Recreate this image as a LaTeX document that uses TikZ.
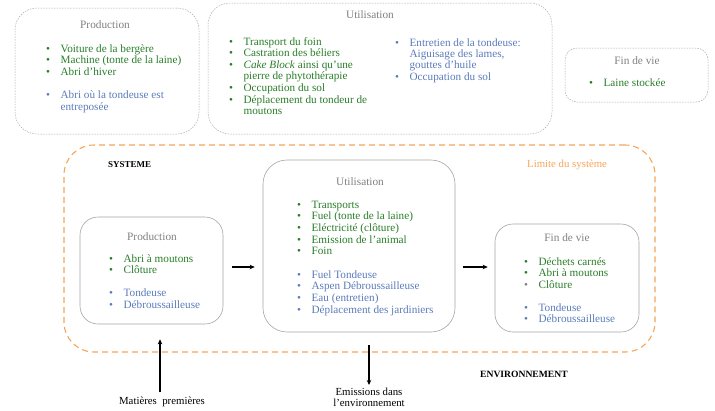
\documentclass[tikz,border=0pt]{standalone}
\usepackage{fontspec}
\setmainfont{Liberation Serif}
\usetikzlibrary{arrows.meta}
\definecolor{grn}{RGB}{40,125,40}
\definecolor{blu}{RGB}{90,123,185}
\definecolor{ttl}{RGB}{128,128,128}
\definecolor{brd}{RGB}{165,165,165}
\definecolor{dsh}{RGB}{170,170,170}
\definecolor{org}{RGB}{245,165,90}
\newcommand{\gitem}[1]{\textcolor{grn}{\textbullet} & \textcolor{grn}{#1}\\}
\newcommand{\bitem}[1]{\textcolor{blu}{\textbullet} & \textcolor{blu}{#1}\\}
\newcommand{\xitem}[1]{\textcolor{ttl}{\textbullet} & \textcolor{grn}{#1}\\}
\newcommand{\gcont}[1]{ & \textcolor{grn}{#1}\\}
\newcommand{\bcont}[1]{ & \textcolor{blu}{#1}\\}
\newcommand{\blankrow}{ & \\}
\newenvironment{blist}{\begin{tabular}[t]{@{}l@{\hspace{10.5pt}}l@{}}}{\end{tabular}}
\tikzset{
  topbox/.style={draw=dsh, dash pattern=on 1.5pt off 1.2pt, line width=0.5pt, rounded corners=#1},
  inbox/.style={draw=brd, line width=0.6pt, rounded corners=#1},
  sysbox/.style={draw=org, dash pattern=on 6pt off 4pt, line width=1.1pt, rounded corners=30pt},
  ttlnode/.style={anchor=base, inner sep=0, text=ttl, font=\fontsize{11.3}{13}\selectfont},
  listnode/.style={anchor=base west, inner sep=0, font=\fontsize{11.2}{#1}\selectfont},
  listnode/.default=11.6,
  lbl/.style={inner sep=0, font=\fontsize{10.8}{11}\selectfont},
  arr/.style={-{Stealth[length=5pt,width=4.5pt]}, line width=1.1pt, black}
}
\begin{document}
\begin{tikzpicture}[x=1pt,y=-1pt]
\useasboundingbox (0,0) rectangle (715,410);
% top boxes
\node[topbox=22pt, minimum width=184pt, minimum height=126pt] (tProd) at (107,71) {};
\node[topbox=22pt, minimum width=344pt, minimum height=131pt] (tUse) at (380,68.5) {};
\node[topbox=12pt, minimum width=143pt, minimum height=54pt] (tFin) at (636.5,75) {};
\node[ttlnode] (tProdT) at (105,28.5) {Production};
\node[ttlnode] (tUseT) at (370,18.5) {Utilisation};
\node[ttlnode] (tFinT) at (637,64.5) {Fin de vie};
\node[listnode] (tProdL) at (46,52) {\begin{blist}
\gitem{Voiture de la bergère}
\gitem{Machine (tonte de la laine)}
\gitem{Abri d’hiver}
\blankrow
\bitem{Abri où la tondeuse est}
\bcont{entreposée}
\end{blist}};
\node[listnode] (tUseL) at (229,45) {\begin{blist}
\gitem{Transport du foin}
\gitem{Castration des béliers}
\gitem{\textit{Cake Block} ainsi qu’une}
\gcont{pierre de phytothérapie}
\gitem{Occupation du sol}
\gitem{Déplacement du tondeur de}
\gcont{moutons}
\end{blist}};
\node[listnode=11.4] (tUseR) at (395,46) {\begin{blist}
\bitem{Entretien de la tondeuse:}
\bcont{Aiguisage des lames,}
\bcont{gouttes d’huile}
\bitem{Occupation du sol}
\end{blist}};
\node[listnode] (tFinL) at (589,86) {\begin{blist}
\gitem{Laine stockée}
\end{blist}};
% system boundary
\node[sysbox, minimum width=591pt, minimum height=207pt] (sys) at (359.5,248.5) {};
\node[lbl, anchor=base west, font=\bfseries\fontsize{9}{10}\selectfont] (sysT) at (108,167) {SYSTEME};
\node[lbl, anchor=base west, text=org] (limT) at (527,167) {Limite du système};
% inner boxes
\node[inbox=18pt, minimum width=143pt, minimum height=107pt] (prodIn) at (151.5,270.5) {};
\node[inbox=24pt, minimum width=192pt, minimum height=172pt] (useIn) at (359,246) {};
\node[inbox=18pt, minimum width=144pt, minimum height=108pt] (finIn) at (567,278) {};
\node[ttlnode] (prodT) at (152,240.5) {Production};
\node[ttlnode] (useT) at (360,185.5) {Utilisation};
\node[ttlnode] (finT) at (567,241.5) {Fin de vie};
\node[listnode] (prodL) at (109,262) {\begin{blist}
\gitem{Abri à moutons}
\gitem{Clôture}
\blankrow
\bitem{Tondeuse}
\bitem{Débroussailleuse}
\end{blist}};
\node[listnode=11.7] (useL) at (297,208) {\begin{blist}
\gitem{Transports}
\gitem{Fuel (tonte de la laine)}
\gitem{Eléctricité (clôture)}
\gitem{Emission de l’animal}
\gitem{Foin}
\blankrow
\bitem{Fuel Tondeuse}
\bitem{Aspen Débroussailleuse}
\bitem{Eau (entretien)}
\bitem{Déplacement des jardiniers}
\end{blist}};
\node[listnode=11.5] (finL) at (524,265) {\begin{blist}
\gitem{Déchets carnés}
\gitem{Abri à moutons}
\xitem{Clôture}
\blankrow
\bitem{Tondeuse}
\bitem{Débroussailleuse}
\end{blist}};
% labels outside
\node[lbl, anchor=base west, font=\bfseries\fontsize{9.6}{10}\selectfont] (envT) at (480,377) {ENVIRONNEMENT};
\node[lbl, anchor=base] (mat) at (162,404) {Matières\ \ premières};
\node[lbl, align=center, anchor=north, font=\fontsize{10.8}{10.5}\selectfont] (emis) at (369,388) {Emissions\ dans\\l’environnement};
% arrows
\coordinate (ay) at (0,267);
\draw[arr, shorten <=9pt, shorten >=8pt] (prodIn.east |- ay) -- (useIn.west |- ay);
\draw[arr, shorten <=8pt, shorten >=7pt] (useIn.east |- ay) -- (finIn.west |- ay);
\draw[arr, shorten <=4pt, shorten >=15pt] (mat.north -| 160,0) -- (prodIn.south -| 160,0);
\draw[arr, shorten <=13pt, shorten >=3pt] (emis.north |- useIn.south) -- (emis.north);
\end{tikzpicture}
\end{document}
